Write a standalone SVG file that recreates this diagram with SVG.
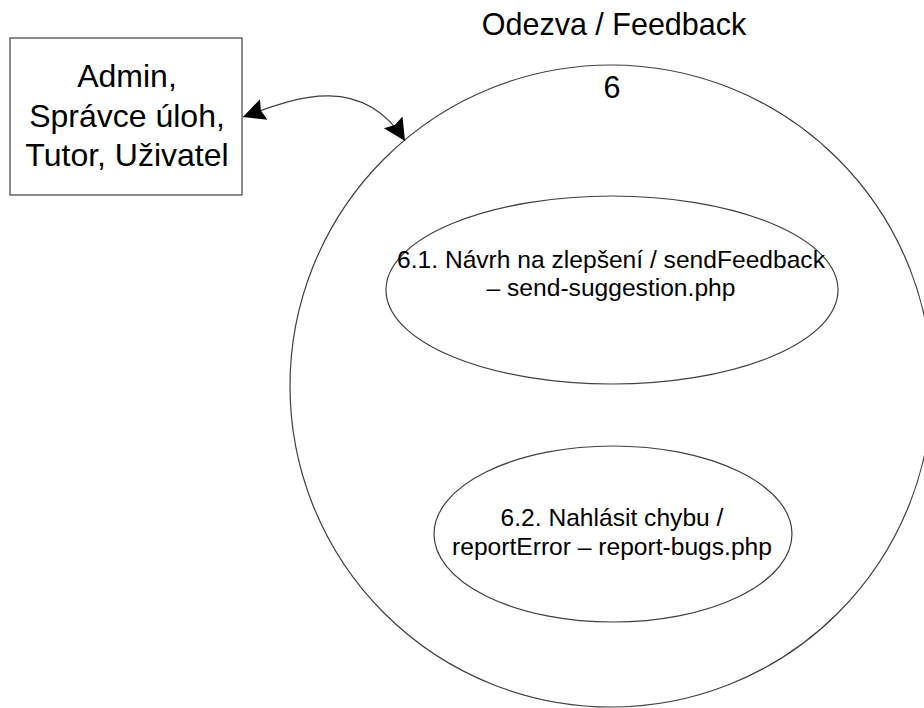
<svg xmlns="http://www.w3.org/2000/svg" width="924" height="708" viewBox="0 0 924 708">
<style>
.shape{fill:#fff;stroke:#404040;stroke-width:1.2}
.ell{fill:none;stroke:#404040;stroke-width:1.2}
.t{font-family:"Liberation Sans",Arial,sans-serif;fill:#000;text-anchor:middle}
.conn{fill:none;stroke:#404040;stroke-width:1.2}
</style>
<defs>
<marker id="ah" markerUnits="userSpaceOnUse" markerWidth="26" markerHeight="26" refX="22" refY="12" orient="auto-start-reverse" viewBox="0 0 26 24">
<path d="M0,1 L22,12 L0,23 L3,12 Z" fill="#000"/>
</marker>
</defs>
<rect width="924" height="708" fill="#fff"/>
<g id="process6">
<circle class="ell" cx="611" cy="386" r="321"/>
<text class="t" x="614" y="35" font-size="30.5">Odezva / Feedback</text>
<text class="t" x="612" y="98" font-size="30.5">6</text>
</g>
<g id="actor">
<rect class="shape" x="10" y="38" width="232" height="157"/>
<text class="t" x="127" y="87" font-size="32">Admin,</text>
<text class="t" x="127" y="127" font-size="32">Správce úloh,</text>
<text class="t" x="127" y="166" font-size="32">Tutor, Uživatel</text>
</g>
<g id="process6_1">
<ellipse class="ell" cx="612" cy="290" rx="226" ry="94"/>
<text class="t" x="611" y="268" font-size="24.6">6.1. Návrh na zlepšení / sendFeedback</text>
<text class="t" x="611" y="296" font-size="24.6">– send-suggestion.php</text>
</g>
<g id="process6_2">
<ellipse class="ell" cx="613" cy="534" rx="179" ry="88"/>
<text class="t" x="612" y="526" font-size="24.6">6.2. Nahlásit chybu /</text>
<text class="t" x="612" y="555" font-size="24.6">reportError – report-bugs.php</text>
</g>
<g id="connectors">
<path class="conn" d="M243,117 C290,100 360,70 405,141" marker-start="url(#ah)" marker-end="url(#ah)"/>
</g>
</svg>
